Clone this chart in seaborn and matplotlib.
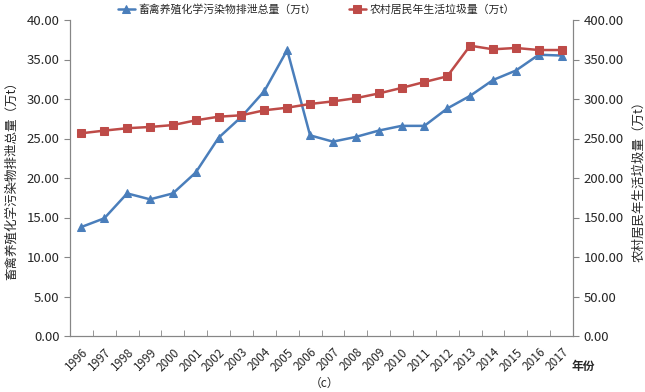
import matplotlib as mpl
mpl.use('Agg')
import matplotlib.pyplot as plt
import seaborn as sns
import numpy as np
import pandas as pd
from matplotlib.ticker import FixedLocator, FormatStrFormatter

years = [str(y) for y in range(1996, 2018)]
livestock = [13.8, 14.9, 18.05, 17.3, 18.05, 20.7, 25.1, 27.75, 31.0, 36.2, 25.4,
             24.6, 25.2, 26.0, 26.6, 26.6, 28.8, 30.4, 32.4, 33.6, 35.6, 35.5]
garbage = [256.6, 260.0, 263.0, 264.6, 267.0, 273.0, 277.6, 279.4, 285.7, 289.0, 293.7,
           297.0, 301.0, 307.0, 314.0, 321.5, 328.7, 367.5, 362.9, 364.6, 362.0, 362.0]

lab_blue = '畜禽养殖化学污染物排泄总量（万t）'
lab_red = '农村居民年生活垃圾量（万t）'

df = pd.DataFrame({'year': years, 'x': np.arange(len(years)),
                   'livestock': livestock, 'garbage': garbage})

sns.set_style('ticks')
plt.rcParams['font.family'] = ['Noto Sans CJK SC', 'DejaVu Sans']

blue = '#4A7EBB'
red = '#BE4B48'
grey = '#868686'

fig = plt.figure(figsize=(6.45, 3.92), dpi=100)
ax = fig.add_axes([70/645, 1-336/392, 503/645, 316/392])
ax2 = ax.twinx()

sns.lineplot(data=df, x='x', y='livestock', ax=ax, color=blue, marker='^',
             markersize=6, markeredgecolor=blue, linewidth=1.8, label=lab_blue, legend=False)
sns.lineplot(data=df, x='x', y='garbage', ax=ax2, color=red, marker='s',
             markersize=5.5, markeredgecolor=red, linewidth=1.8, label=lab_red, legend=False)

n = len(years)
for a in (ax, ax2):
    a.set_xlim(-0.5, n - 0.5)
    a.set_xlabel('')
    for s in a.spines.values():
        s.set_color(grey)
    a.spines['top'].set_visible(False)

ax.set_ylim(0, 40)
ax2.set_ylim(0, 400)
ax.set_yticks(np.arange(0, 40.1, 5))
ax2.set_yticks(np.arange(0, 401, 50))
ax.yaxis.set_major_formatter(FormatStrFormatter('%.2f'))
ax2.yaxis.set_major_formatter(FormatStrFormatter('%.2f'))

ax.set_xticks(np.arange(n))
ax.set_xticklabels(years, rotation=45, ha='right', rotation_mode='anchor', fontsize=8.5)
ax.xaxis.set_minor_locator(FixedLocator(np.arange(-0.5, n, 1.0)))
ax.tick_params(axis='x', which='major', length=0, pad=7)
ax.tick_params(axis='x', which='minor', length=4, color=grey, direction='in')
ax.tick_params(axis='y', labelsize=9.5, length=4, color=grey)
ax2.tick_params(axis='y', labelsize=9.5, length=4, color=grey)

ax.set_ylabel(lab_blue, fontsize=9, labelpad=6)
ax2.set_ylabel(lab_red, fontsize=9, labelpad=6)

handles = ax.get_lines()[:1] + ax2.get_lines()[:1]
fig.legend(handles, [lab_blue, lab_red], loc='center', ncol=2,
           bbox_to_anchor=(0.49, 1-9/392), frameon=False, fontsize=7.8,
           handlelength=1.6, handletextpad=0.3, columnspacing=3.0, borderpad=0)

fig.text(583/645, 1-366/392, '年份', fontsize=8.5, fontweight='bold', ha='center', va='center')
fig.text(325/645, 1-383/392, '（c）', fontsize=8.5, ha='center', va='center')

fig.savefig('out.png', dpi=100)
